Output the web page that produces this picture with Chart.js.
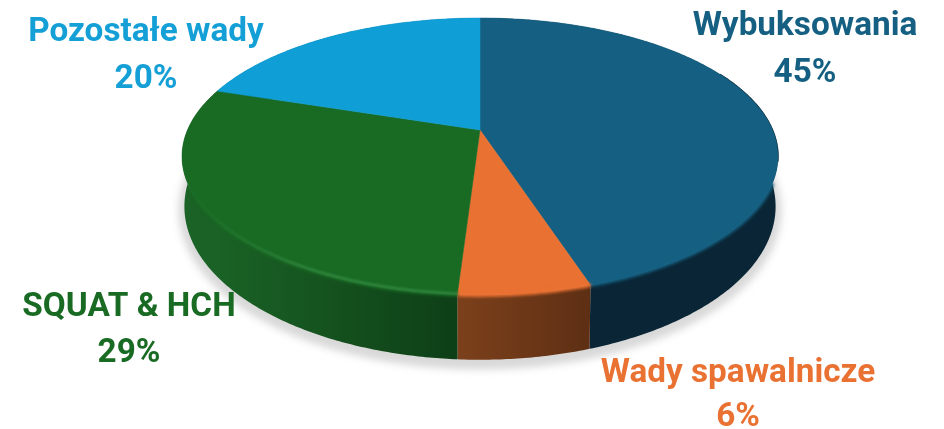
<!DOCTYPE html>
<html>
<head>
<meta charset="utf-8">
<title>Wady</title>
<script src="https://cdn.jsdelivr.net/npm/chart.js@4"></script>
<style>
  html, body { margin: 0; padding: 0; background: #ffffff; }
  #wrap { width: 944px; height: 429px; }
</style>
</head>
<body>
<div id="wrap"><canvas id="pieChart" width="944" height="429"></canvas></div>
<script>
const categories = ["Wybuksowania", "Wady spawalnicze", "SQUAT & HCH", "Pozostałe wady"];
const shares = [45, 6, 29, 20];

const faceColors = ["#156082", "#E97132", "#196B24", "#0F9ED5"];
const sideLeftColors = ["#0A2636", "#7C401B", "#1A6225", "#0B6C92"];
const sideRightColors = ["#0A2636", "#5E2F14", "#0E3F17", "#0B6C92"];
const textColors = ["#156082", "#E97132", "#196B24", "#14A0D6"];

// label centre x, first baseline, second baseline
const labelSpots = [
  [805, 35, 82],
  [738, 382, 426],
  [129, 316, 362],
  [146, 41, 88]
];

// pie tilted towards the viewer: nearer rim is drawn larger
const tilt = { cx: 480, cy: 130, a: 292.5, b: 133.4, k: 0.191 };

function topPoint(theta, r) {
  const rad = r === undefined ? 1 : r;
  const u = Math.sin(theta) * rad;
  const v = -Math.cos(theta) * rad;
  const w = 1 - tilt.k * v;
  return [tilt.cx + tilt.a * u / w, tilt.cy + tilt.b * v / w];
}

function bottomPoint(theta) {
  const p = topPoint(theta);
  return [tilt.cx + (p[0] - tilt.cx) * 0.992, 206 + (p[1] - 156) * 1.107];
}

function traceEdge(ctx, pointFn, from, to, started) {
  const steps = Math.max(2, Math.ceil(Math.abs(to - from) / 0.01));
  for (let i = 0; i <= steps; i++) {
    const p = pointFn(from + (to - from) * i / steps);
    if (i === 0 && !started) ctx.moveTo(p[0], p[1]);
    else ctx.lineTo(p[0], p[1]);
  }
}

const pie3d = {
  id: "pie3d",
  beforeDatasetsDraw(chart) {
    const ctx = chart.ctx;
    const arcs = chart.getDatasetMeta(0).data;
    // element angles start at 3 o'clock, the rim formula at 12 o'clock
    const spans = arcs.map(arc => [arc.startAngle + Math.PI / 2, arc.endAngle + Math.PI / 2]);

    // soft floor shadow under the base
    ctx.save();
    ctx.filter = "blur(5px)";
    ctx.fillStyle = "#d4d4d4";
    ctx.strokeStyle = "#d4d4d4";
    ctx.lineWidth = 9;
    ctx.translate(0, 4);
    ctx.beginPath();
    traceEdge(ctx, bottomPoint, 0, Math.PI * 2);
    ctx.closePath();
    ctx.fill();
    ctx.stroke();
    ctx.restore();

    // side walls
    spans.forEach((span, i) => {
      const left = topPoint(span[1])[0];
      const right = topPoint(span[0])[0];
      const grad = ctx.createLinearGradient(Math.min(left, right), 0, Math.max(left, right), 0);
      grad.addColorStop(0, sideLeftColors[i]);
      grad.addColorStop(1, sideRightColors[i]);
      ctx.fillStyle = grad;
      ctx.beginPath();
      traceEdge(ctx, topPoint, span[0], span[1]);
      traceEdge(ctx, bottomPoint, span[1], span[0], true);
      ctx.closePath();
      ctx.fill();
    });

    // thin dark lip on the upper right of the rim
    ctx.save();
    ctx.strokeStyle = "#0A2636";
    ctx.lineWidth = 1.5;
    ctx.beginPath();
    traceEdge(ctx, topPoint, 1.1, 1.8);
    ctx.stroke();
    ctx.restore();

    // top faces
    spans.forEach((span, i) => {
      ctx.fillStyle = faceColors[i];
      ctx.strokeStyle = faceColors[i];
      ctx.lineWidth = 0.5;
      ctx.beginPath();
      ctx.moveTo(tilt.cx, tilt.cy);
      traceEdge(ctx, topPoint, span[0], span[1], true);
      ctx.closePath();
      ctx.fill();
      ctx.stroke();
    });

    // blurred rounded edge where the face meets the wall, front part only
    const lower = [1.95, 4.3];
    spans.forEach((span, i) => {
      const from = Math.max(span[0], lower[0]);
      const to = Math.min(span[1], lower[1]);
      if (to <= from) return;
      ctx.save();
      ctx.filter = "blur(1.5px)";
      ctx.strokeStyle = faceColors[i];
      ctx.lineWidth = 4;
      ctx.beginPath();
      traceEdge(ctx, topPoint, from, to);
      ctx.stroke();
      ctx.restore();
    });

    // highlight running along the green rim
    ctx.save();
    ctx.filter = "blur(0.8px)";
    const sheen = ctx.createLinearGradient(190, 0, 320, 0);
    sheen.addColorStop(0, "rgba(58,145,72,0)");
    sheen.addColorStop(1, "rgba(58,145,72,0.9)");
    ctx.strokeStyle = sheen;
    ctx.lineWidth = 2;
    ctx.beginPath();
    traceEdge(ctx, t => topPoint(t, 0.995), Math.max(spans[2][0], Math.PI), Math.min(spans[2][1], Math.PI * 1.37));
    ctx.stroke();
    ctx.restore();

    return false;
  },
  afterDraw(chart) {
    const ctx = chart.ctx;
    ctx.save();
    ctx.textAlign = "center";
    ctx.textBaseline = "alphabetic";
    ctx.font = "bold 33.3px Roboto";
    categories.forEach((name, i) => {
      const spot = labelSpots[i];
      ctx.fillStyle = textColors[i];
      ctx.fillText(name, spot[0], spot[1]);
      ctx.fillText(shares[i] + "%", spot[0], spot[2]);
    });
    ctx.restore();
  }
};

new Chart(document.getElementById("pieChart"), {
  type: "pie",
  data: {
    labels: categories,
    datasets: [{ data: shares, backgroundColor: faceColors, borderWidth: 0 }]
  },
  options: {
    responsive: false,
    animation: false,
    plugins: {
      legend: { display: false },
      tooltip: { enabled: false }
    }
  },
  plugins: [pie3d]
});
</script>
</body>
</html>
